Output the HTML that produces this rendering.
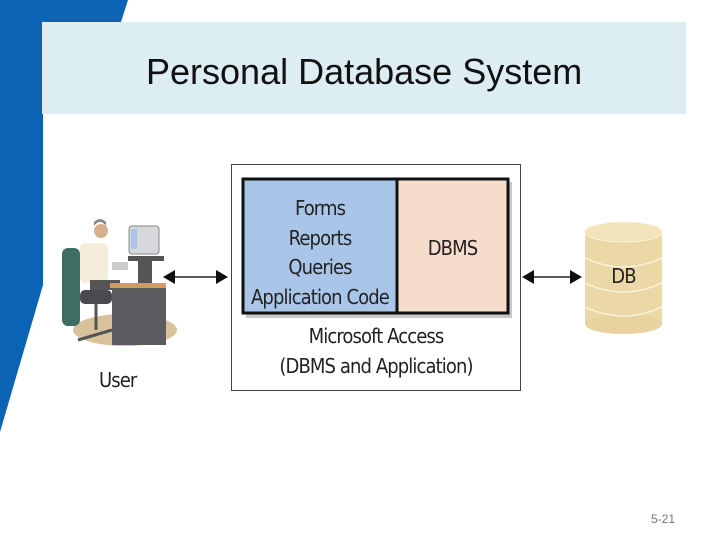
<!DOCTYPE html>
<html><head><style>
body{margin:0;width:728px;height:546px;overflow:hidden;background:#fff;position:relative;font-family:"Liberation Sans",sans-serif}
.a{position:absolute}
</style></head><body>
<svg class="a" style="left:0;top:0" width="728" height="546">
<polygon points="0,0 128,0 121,22 43,22 43,285 0,432" fill="#0b63b5"/>
<rect x="42" y="22" width="644" height="92" fill="#dcedf3"/>
<text x="146" y="84" font-size="36" font-family="Liberation Sans" fill="#111">Personal Database System</text>
<!-- user figure -->
<ellipse cx="125" cy="330" rx="52" ry="16" fill="#d9c29b"/>
<rect x="62" y="248" width="18" height="78" rx="6" fill="#3e6e62"/>
<rect x="80" y="290" width="32" height="14" rx="5" fill="#4a4a4f"/>
<line x1="96" y1="304" x2="96" y2="330" stroke="#555" stroke-width="3"/>
<line x1="78" y1="340" x2="112" y2="330" stroke="#555" stroke-width="3"/>
<rect x="80" y="243" width="28" height="40" rx="6" fill="#f3ecd8"/>
<circle cx="101" cy="231" r="7" fill="#d8b08e"/>
<path d="M94 226 q6-8 12 0 l0 -4 q-6-6 -12 0z" fill="#888"/>
<rect x="90" y="280" width="30" height="10" fill="#555"/>
<rect x="112" y="283" width="54" height="62" fill="#5b5c60"/>
<rect x="110" y="283" width="56" height="5" fill="#d69a5e"/>
<rect x="128" y="256" width="36" height="5" fill="#555"/>
<rect x="138" y="261" width="14" height="22" fill="#555"/>
<rect x="129" y="226" width="30" height="28" rx="3" fill="#d7d8dc" stroke="#888"/>
<rect x="131" y="229" width="6" height="20" fill="#a9c4e6"/>
<rect x="112" y="262" width="16" height="8" fill="#ccc"/>
<!-- arrows -->
<g stroke="#222" stroke-width="1.5"><line x1="170" y1="277" x2="220" y2="277"/><line x1="530" y1="277" x2="575" y2="277"/></g>
<g fill="#111"><polygon points="163,277 175,270 175,284"/><polygon points="228,277 216,270 216,284"/><polygon points="522,277 534,270 534,284"/><polygon points="582,277 570,270 570,284"/></g>
<!-- main box -->
<rect x="231.5" y="164.5" width="289" height="226" fill="#fff" stroke="#444"/>
<rect x="246" y="182" width="266" height="136" fill="#c8c8c8"/>
<rect x="243" y="179" width="154" height="134" fill="#a9c6e8" stroke="#111" stroke-width="3"/>
<rect x="397" y="179" width="111" height="134" fill="#f6dccb" stroke="#111" stroke-width="3"/>
<!-- DB -->
<rect x="585" y="232" width="77" height="92" fill="#ecd8a6"/>
<ellipse cx="623.5" cy="324" rx="38.5" ry="10" fill="#e8d39f"/>
<g fill="none" stroke="#fbf3dc" stroke-width="1.5"><path d="M585 258 q38 18 77 0"/><path d="M585 283 q38 18 77 0"/><path d="M585 307 q38 18 77 0"/></g>
<ellipse cx="623.5" cy="232" rx="38.5" ry="10" fill="#f2e3bb" stroke="#fbf3dc"/>
</svg>
<div class="a" style="left:243px;top:194px;width:154px;text-align:center;font-size:20px;line-height:29.5px;color:#222;font-family:'DejaVu Sans Condensed',sans-serif;letter-spacing:-0.9px">Forms<br>Reports<br>Queries<br>Application Code</div>
<div class="a" style="left:397px;top:236px;width:111px;text-align:center;font-size:20px;color:#222;font-family:'DejaVu Sans Condensed',sans-serif;letter-spacing:-0.9px">DBMS</div>
<div class="a" style="left:231px;top:321px;width:290px;text-align:center;font-size:20px;line-height:30px;color:#222;font-family:'DejaVu Sans Condensed',sans-serif;letter-spacing:-0.9px">Microsoft Access<br>(DBMS and Application)</div>
<div class="a" style="left:585px;top:264px;width:77px;text-align:center;font-size:20px;color:#222;font-family:'DejaVu Sans Condensed',sans-serif;letter-spacing:-0.9px">DB</div>
<div class="a" style="left:99px;top:368px;font-size:20px;color:#222;font-family:'DejaVu Sans Condensed',sans-serif;letter-spacing:-0.9px">User</div>
<div class="a" style="left:651px;top:512px;font-size:12px;color:#777">5-21</div>
</body></html>
